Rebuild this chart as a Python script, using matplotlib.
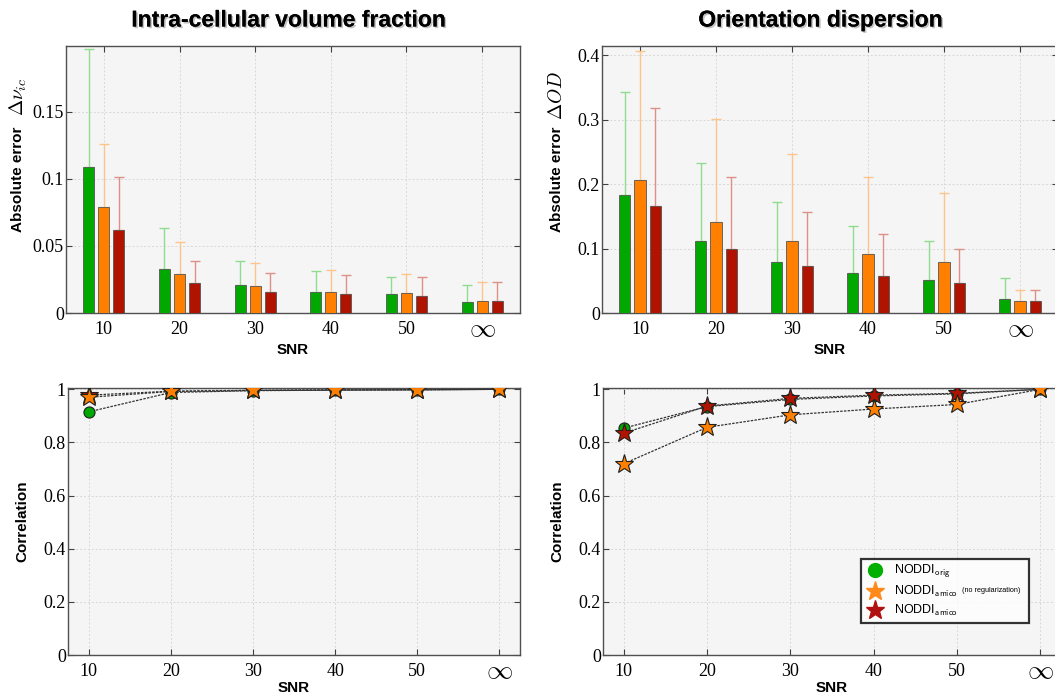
import numpy as np
import matplotlib
matplotlib.use("Agg")
import matplotlib.pyplot as plt
from matplotlib.lines import Line2D
import matplotlib.patheffects as pe

# ---------------- data ----------------
snr_labels = ["10", "20", "30", "40", "50", r"$\infty$"]
methods = ["NODDI_orig", "NODDI_amico_noreg", "NODDI_amico"]

# Intra-cellular volume fraction: mean abs error and upper error-bar tip
vic_mean = {
    "NODDI_orig":        [0.109, 0.033, 0.021, 0.016, 0.014, 0.008],
    "NODDI_amico_noreg": [0.079, 0.029, 0.020, 0.016, 0.015, 0.009],
    "NODDI_amico":       [0.062, 0.022, 0.016, 0.014, 0.013, 0.009],
}
vic_top = {
    "NODDI_orig":        [0.197, 0.063, 0.039, 0.031, 0.027, 0.021],
    "NODDI_amico_noreg": [0.126, 0.053, 0.037, 0.032, 0.029, 0.023],
    "NODDI_amico":       [0.101, 0.039, 0.030, 0.028, 0.027, 0.023],
}
# Orientation dispersion
od_mean = {
    "NODDI_orig":        [0.183, 0.112, 0.079, 0.062, 0.051, 0.022],
    "NODDI_amico_noreg": [0.206, 0.141, 0.111, 0.092, 0.079, 0.019],
    "NODDI_amico":       [0.166, 0.100, 0.073, 0.057, 0.047, 0.019],
}
od_top = {
    "NODDI_orig":        [0.342, 0.233, 0.172, 0.135, 0.112, 0.055],
    "NODDI_amico_noreg": [0.407, 0.301, 0.246, 0.211, 0.186, 0.036],
    "NODDI_amico":       [0.318, 0.211, 0.157, 0.122, 0.100, 0.036],
}
# Correlations
vic_corr = {
    "NODDI_orig":        [0.915, 0.988, 0.995, 0.997, 0.998, 1.000],
    "NODDI_amico_noreg": [0.970, 0.992, 0.996, 0.997, 0.998, 1.000],
    "NODDI_amico":       [0.978, 0.993, 0.996, 0.998, 0.999, 1.000],
}
od_corr = {
    "NODDI_orig":        [0.854, 0.935, 0.962, 0.975, 0.983, 1.000],
    "NODDI_amico_noreg": [0.720, 0.857, 0.904, 0.926, 0.943, 1.000],
    "NODDI_amico":       [0.835, 0.937, 0.966, 0.978, 0.985, 1.000],
}

# ---------------- style ----------------
bar_colors = {"NODDI_orig": "#00a800", "NODDI_amico_noreg": "#ff8000", "NODDI_amico": "#b01400"}
err_colors = {"NODDI_orig": "#8fdc8f", "NODDI_amico_noreg": "#ffc48a", "NODDI_amico": "#dd9088"}
markers = {"NODDI_orig": ("o", 8), "NODDI_amico_noreg": ("*", 14), "NODDI_amico": ("*", 14)}
zorders = {"NODDI_orig": 3, "NODDI_amico_noreg": 5, "NODDI_amico": 4}
offsets = {"NODDI_orig": -0.2, "NODDI_amico_noreg": 0.0, "NODDI_amico": 0.2}

plt.rcParams["mathtext.fontset"] = "cm"
SERIF = ["Liberation Serif", "DejaVu Serif"]
SANS = ["Liberation Sans", "DejaVu Sans"]

W, H = 1055, 696
fig = plt.figure(figsize=(W / 100, H / 100), dpi=100)


def ax_at(l, t, r, b):
    return fig.add_axes([l / W, 1 - b / H, (r - l) / W, (b - t) / H])


def style_axes(ax, yticks, yticklabels, xlabel_y):
    ax.set_facecolor("#f5f5f5")
    ax.grid(True, linestyle=(0, (2, 2)), color="#d8d8d8", linewidth=0.7)
    ax.set_axisbelow(True)
    for s in ax.spines.values():
        s.set_color("#505050")
        s.set_linewidth(1.0)
    ax.tick_params(direction="in", top=True, right=True, length=4, width=0.8,
                   color="#404040", labelsize=13)
    ax.tick_params(axis="y", pad=1.5)
    ax.tick_params(axis="x", pad=12)
    x = np.arange(len(snr_labels))
    ax.set_xticks(x)
    ax.set_xticklabels(snr_labels, fontfamily=SERIF)
    for t in ax.get_xticklabels():
        t.set_va("center")
    ax.get_xticklabels()[-1].set_fontsize(19)
    ax.set_yticks(yticks)
    ax.set_yticklabels(yticklabels, fontfamily=SERIF)
    ax.set_xlabel("SNR", fontfamily=SANS, fontweight="bold", fontsize=11, va="center")
    ax.xaxis.set_label_coords(0.5, xlabel_y)


def bar_panel(ax, mean, top, ylim, yticks, yticklabels, ylabel_x, math, math_y):
    x = np.arange(len(snr_labels))
    for m in methods:
        mu = np.array(mean[m])
        up = np.array(top[m]) - mu
        ax.bar(x + offsets[m], mu, width=0.145, color=bar_colors[m],
               edgecolor="#555555", linewidth=0.6, zorder=3)
        ax.errorbar(x + offsets[m], mu, yerr=[np.zeros_like(up), up], fmt="none",
                    ecolor=err_colors[m], elinewidth=1.0, capsize=3.5, capthick=1.0, zorder=2)
    ax.set_xlim(-0.5, 5.5)
    ax.set_ylim(*ylim)
    style_axes(ax, yticks, yticklabels, -0.139)
    ax.set_ylabel("Absolute error", fontfamily=SANS, fontweight="bold", fontsize=11, va="center")
    ax.yaxis.set_label_coords(ylabel_x, 0.5)
    ax.text(ylabel_x, math_y, math, transform=ax.transAxes, rotation=90,
            ha="center", va="center", fontsize=14)


def corr_panel(ax, corr, ylabel_x):
    x = np.arange(len(snr_labels))
    for m in methods:
        mk, ms = markers[m]
        ax.plot(x, corr[m], linestyle=(0, (2, 1)), color="#333333", linewidth=0.9,
                marker=mk, markersize=ms, markerfacecolor=bar_colors[m],
                markeredgecolor="#202020", markeredgewidth=0.8, zorder=zorders[m])
    ax.set_xlim(-0.25, 5.25)
    ax.set_ylim(0, 1.005)
    style_axes(ax, [0, 0.2, 0.4, 0.6, 0.8, 1.0], ["0", "0.2", "0.4", "0.6", "0.8", "1"], -0.124)
    ax.set_ylabel("Correlation", fontfamily=SANS, fontweight="bold", fontsize=11, va="center")
    ax.yaxis.set_label_coords(ylabel_x, 0.5)


ax1 = ax_at(66, 46, 520, 313)
bar_panel(ax1, vic_mean, vic_top, (0, 0.199), [0, 0.05, 0.1, 0.15],
          ["0", "0.05", "0.1", "0.15"], -0.106, r"$\Delta\nu_{ic}$", 0.81)
ax2 = ax_at(602, 46, 1058, 313)
bar_panel(ax2, od_mean, od_top, (0, 0.414), [0, 0.1, 0.2, 0.3, 0.4],
          ["0", "0.1", "0.2", "0.3", "0.4"], -0.099, r"$\Delta OD$", 0.815)
ax3 = ax_at(68, 388, 520, 655)
corr_panel(ax3, vic_corr, -0.1)
ax4 = ax_at(603, 388, 1061, 655)
corr_panel(ax4, od_corr, -0.1)

shadow = [pe.withSimplePatchShadow(offset=(1.2, -1.2), shadow_rgbFace="#888888", alpha=0.5), pe.Normal()]
fig.text(288 / W, 1 - 20 / H, "Intra-cellular volume fraction", ha="center", va="center",
         fontfamily=SANS, fontweight="bold", fontsize=16.5, path_effects=shadow)
fig.text(820 / W, 1 - 20 / H, "Orientation dispersion", ha="center", va="center",
         fontfamily=SANS, fontweight="bold", fontsize=16.5, path_effects=shadow)

# legend
handles = [
    Line2D([], [], linestyle="none", marker="o", markersize=10, markerfacecolor="#00b000",
           markeredgecolor="#00b000"),
    Line2D([], [], linestyle="none", marker="*", markersize=14, markerfacecolor="#ff8a1a",
           markeredgecolor="#ff8a1a"),
    Line2D([], [], linestyle="none", marker="*", markersize=14, markerfacecolor="#b01010",
           markeredgecolor="#b01010"),
]
labels = [r"NODDI$_{\mathsf{orig}}$", r"NODDI$_{\mathsf{amico}}$", r"NODDI$_{\mathsf{amico}}$"]
lx0 = (861 - 603) / 458
lw = (1029 - 861) / 458
ltop = 1 - (559 - 388) / 267
leg = ax4.legend(handles, labels, loc="upper left", mode="expand",
                 bbox_to_anchor=(lx0, 0.0, lw, ltop),
                 prop={"family": SANS, "size": 9}, frameon=True, fancybox=False,
                 borderpad=0.35, labelspacing=0.3, handletextpad=0.8, handlelength=1.5,
                 borderaxespad=0)
leg.get_frame().set_edgecolor("black")
leg.get_frame().set_linewidth(1.6)
leg.get_frame().set_facecolor("white")
fig.text(991 / W, 1 - 591 / H, "(no regularization)", ha="center", va="center",
         fontfamily=SANS, fontsize=5.2, zorder=10)

fig.savefig("out.png", dpi=100)
